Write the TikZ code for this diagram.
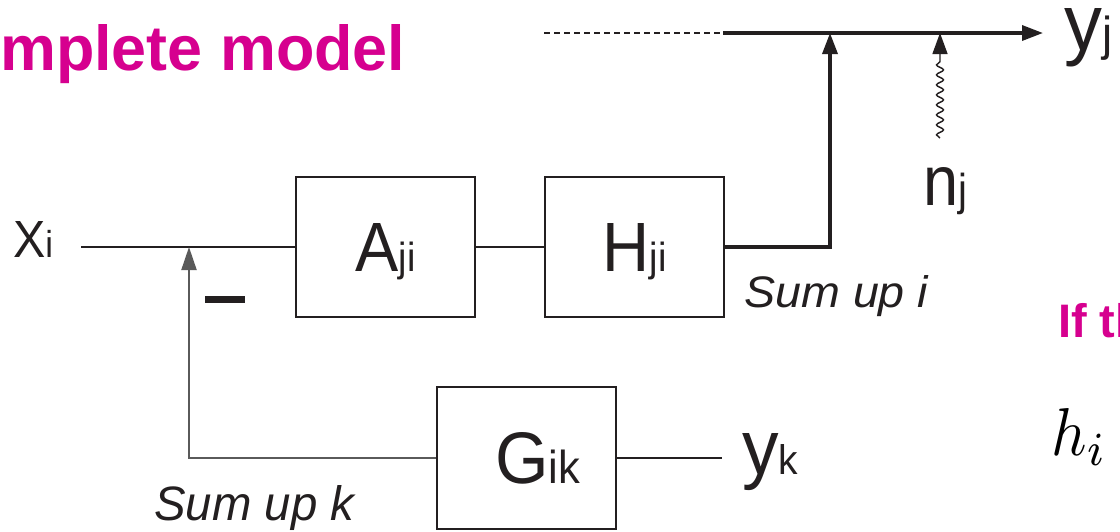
\documentclass[tikz,border=0pt]{standalone}
\usepackage{fontspec}
\usepackage{graphicx}
\setmainfont{Liberation Sans}
\usetikzlibrary{arrows.meta,decorations.pathmorphing}
\definecolor{magentatitle}{RGB}{214,0,143}
\definecolor{ink}{RGB}{35,31,32}
\definecolor{fbgray}{RGB}{90,90,90}
% label: width, height, main text, sub text, sub size
\newcommand{\lbl}[5]{\resizebox{#1pt}{#2pt}{\fontsize{60}{60}\selectfont #3{\fontsize{#5}{#5}\selectfont #4}}}
\begin{document}
\begin{tikzpicture}[x=1pt,y=-1pt,
  blockbox/.style={draw=ink,line width=1.8pt,minimum width=179pt,inner sep=0pt,text depth=0pt,text=ink},
  thinline/.style={draw=ink,line width=1.8pt},
  thickline/.style={draw=ink,line width=3.4pt},
  fbline/.style={draw=fbgray,line width=2pt},
  dashline/.style={draw=ink,line width=1.4pt,dash pattern=on 6pt off 4pt},
  wave/.style={draw=ink,line width=1.4pt,decorate,decoration={snake,segment length=10pt,amplitude=3.5pt,post length=24pt}},
  headA/.style={-{Triangle[length=21pt,width=15pt]}},
  headB/.style={-{Triangle[length=23pt,width=15pt]}},
  lab/.style={inner sep=0pt,anchor=base west,text=ink}
]
\useasboundingbox (0,0) rectangle (1120,531);
\fill[white] (0,0) rectangle (1120,531);
\clip (0,0) rectangle (1120,531);

% title texts
\node[inner sep=0pt,anchor=base west,text=magentatitle] (title) at (0,70)
  {\resizebox{405pt}{46pt}{\bfseries mplete model}};
\node[inner sep=0pt,anchor=base west,text=magentatitle] (ifth) at (1058,337)
  {\fontsize{47}{50}\selectfont\bfseries If th};
\node[inner sep=0pt,anchor=base west,text=black] (hi) at (1051,455)
  {\resizebox{56pt}{47pt}{$h_i$}};

% blocks
\node[blockbox,minimum height=140pt] (A) at (385.5,247) {\lbl{60}{48}{A}{ji}{35}};
\node[blockbox,minimum height=140pt] (H) at (634.5,247) {\lbl{64}{48}{H}{ji}{35}};
\node[blockbox,minimum height=142pt] (G) at (526.5,458) {\hspace*{22pt}\lbl{85}{51}{G}{ik}{38}};

% labels
\node[lab] (xi) at (13,257) {\lbl{40}{36}{X}{i}{43}};
\node[lab] (nj) at (923,205) {\lbl{44}{38}{n}{j}{38}};
\node[lab] (yj) at (1064,50) {\lbl{48}{42}{y}{j}{36}};
\node[lab] (yk) at (742,474) {\lbl{56}{41}{y}{k}{32}};
\node[lab] (sumi) at (744,307) {\resizebox{184pt}{32pt}{\itshape Sum up i}};
\node[lab] (sumk) at (154,520) {\resizebox{200pt}{35pt}{\itshape Sum up k}};
\node[inner sep=0pt,text=ink] (minus) at (224.5,299) {\rule{40pt}{7pt}};

% coordinates
\coordinate (xin) at (81,247);
\coordinate (junc) at (189,247);
\coordinate (corner) at (830,247);
\coordinate (topjoin) at (830,33);
\coordinate (dstart) at (544,33);
\coordinate (dend) at (723,33);
\coordinate (tip) at (1043,33);
\coordinate (nbot) at (940,138);
\coordinate (ntop) at (940,33);
\coordinate (fbcorner) at (189,458);
\coordinate (ykend) at (722,458);

% connectors
\draw[thinline] (xin) -- (A.west);
\draw[thinline] (A.east) -- (H.west);
\draw[thickline,headA] (H.east) -- (corner) -- (topjoin);
\draw[dashline] (dstart) -- (dend);
\draw[thickline,headA] (dend) -- (tip);
\draw[wave,headA] (nbot) -- (ntop);
\draw[fbline,headB] (G.west) -- (fbcorner) -- (junc);
\draw[thinline] (G.east) -- (ykend);
\end{tikzpicture}
\end{document}
